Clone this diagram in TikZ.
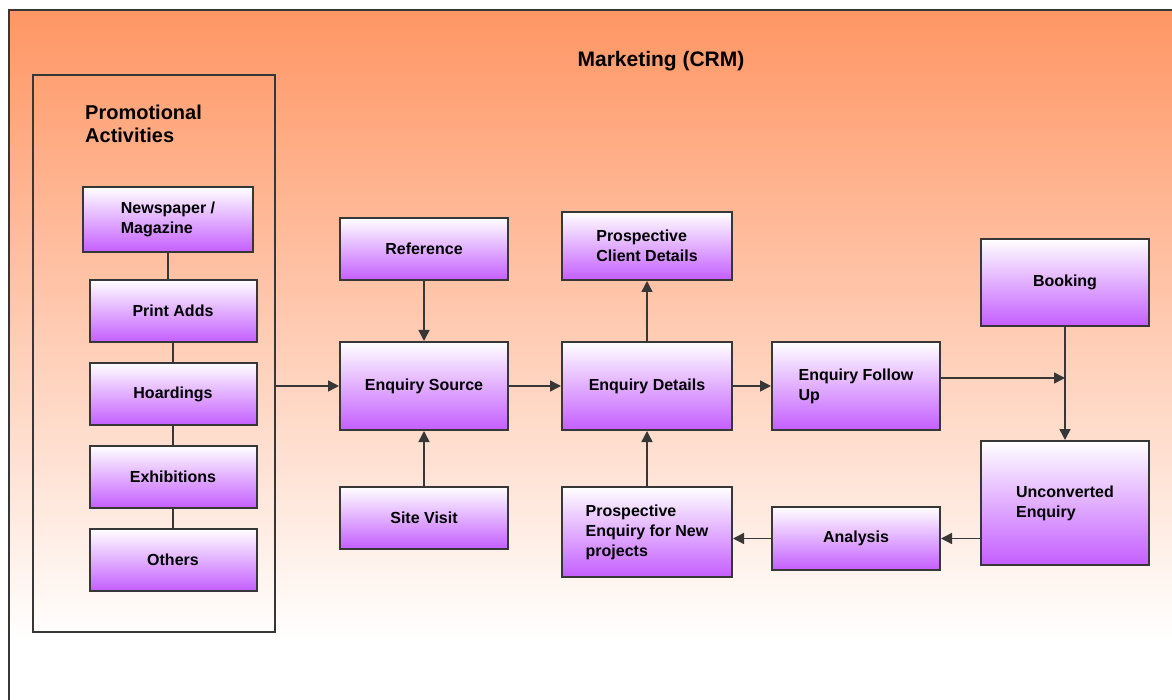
\documentclass[tikz,border=0pt]{standalone}
\usepackage{fontspec}
\setmainfont{Liberation Sans}
\usetikzlibrary{arrows.meta}

\definecolor{bgorange}{RGB}{255,150,100}
\definecolor{boxpurple}{RGB}{196,94,255}
\definecolor{edgegray}{RGB}{55,55,55}

\begin{document}
\begin{tikzpicture}[x=1pt, y=-1pt, >={Triangle[length=11pt,width=11pt]},
    box/.style={draw=edgegray, line width=2pt, top color=white, middle color=boxpurple!30!white,
        bottom color=boxpurple, inner sep=0pt, align=left,
        font=\bfseries\fontsize{16}{20}\selectfont},
    grpbox/.style={draw=edgegray, line width=2.5pt, inner sep=0pt,
        minimum width=242pt, minimum height=557pt},
    link/.style={draw=edgegray, line width=1.5pt},
    flow/.style={link, ->}]

    \useasboundingbox (0,0) rectangle (1172,700);

    % =========================================================================
    % BACKGROUND
    % =========================================================================
    \fill[white] (9,600) rectangle (1172,700);
    \fill[top color=bgorange, bottom color=white] (9,10) rectangle (1172,640);
    \draw[edgegray, line width=2pt] (9,700) -- (9,10) -- (1172,10);
    \node[font=\bfseries\fontsize{21}{25}\selectfont] (title) at (661,61) {Marketing (CRM)};

    % =========================================================================
    % PROMOTIONAL ACTIVITIES
    % =========================================================================
    \node[grpbox] (promo) at (154,353.5) {};
    \node[anchor=north west, align=left, inner sep=0pt,
        font=\bfseries\fontsize{20}{23}\selectfont] (promotitle) at (85,105) {Promotional\\Activities};

    \node[box, minimum width=170pt, minimum height=65pt] (news) at (168,219.5) {Newspaper /\\Magazine};
    \node[box, minimum width=167pt, minimum height=62pt] (print) at (173,311) {Print Adds};
    \node[box, minimum width=167pt, minimum height=62pt] (hoard) at (173,394) {Hoardings};
    \node[box, minimum width=167pt, minimum height=62pt] (exhib) at (173,477) {Exhibitions};
    \node[box, minimum width=167pt, minimum height=62pt] (others) at (173,560) {Others};

    \draw[link] (news.south) -- (news.south |- print.north);
    \draw[link] (print) -- (hoard);
    \draw[link] (hoard) -- (exhib);
    \draw[link] (exhib) -- (others);

    % =========================================================================
    % ENQUIRY FLOW
    % =========================================================================
    \node[box, minimum width=168pt, minimum height=62pt] (ref) at (424,249) {Reference};
    \node[box, minimum width=168pt, minimum height=88pt] (esrc) at (424,386) {Enquiry Source};
    \node[box, minimum width=168pt, minimum height=62pt] (site) at (424,518) {Site Visit};

    \node[box, minimum width=170pt, minimum height=68pt] (pcd) at (647,246) {Prospective\\Client Details};
    \node[box, minimum width=170pt, minimum height=88pt] (edet) at (647,386) {Enquiry Details};
    \node[box, minimum width=170pt, minimum height=90pt] (pef) at (647,532) {Prospective\\Enquiry for New\\projects};

    \node[box, minimum width=168pt, minimum height=88pt] (efu) at (856,386) {Enquiry Follow\\Up};
    \node[box, minimum width=168pt, minimum height=63pt] (ana) at (856,538.5) {Analysis};

    \node[box, minimum width=168pt, minimum height=87pt] (book) at (1065,282.5) {Booking};
    \node[box, minimum width=168pt, minimum height=124pt] (unc) at (1065,503) {Unconverted\\Enquiry};

    \coordinate (efuout) at ([yshift=8pt]efu.east);
    \coordinate (join) at (book.south |- efuout);

    \draw[flow] (promo.east |- esrc.west) -- (esrc.west);
    \draw[flow] (ref) -- (esrc);
    \draw[flow] (site) -- (esrc);
    \draw[flow] (esrc) -- (edet);
    \draw[flow] (edet) -- (pcd);
    \draw[flow] (pef) -- (edet);
    \draw[flow] (edet) -- (efu);
    \draw[flow] (efuout) -- (join);
    \draw[flow] (book) -- (unc);
    \draw[flow] (unc.west |- ana.east) -- (ana.east);
    \draw[flow] (ana.west) -- (ana.west -| pef.east);

\end{tikzpicture}
\end{document}
